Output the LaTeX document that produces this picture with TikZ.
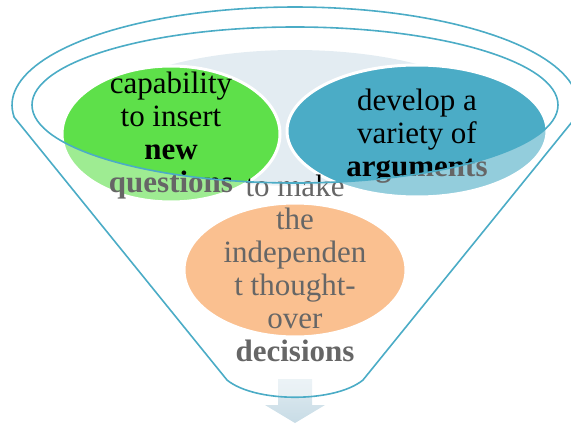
\documentclass[tikz,border=0pt]{standalone}
\usepackage{fontspec}
\setmainfont{Liberation Serif}
\definecolor{fgreen}{HTML}{5EE04A}
\definecolor{fblue}{HTML}{4BACC6}
\definecolor{forange}{HTML}{F79646}
\definecolor{flight}{HTML}{E3ECF2}
\definecolor{arrtop}{HTML}{E0EBF1}
\definecolor{arrbot}{HTML}{C8DCE6}
\begin{document}
\begin{tikzpicture}[x=1pt,y=-1pt,
  blob/.style={draw=white, line width=3pt},
  lbl/.style={align=center, font=\fontsize{31}{33}\selectfont, inner sep=0pt, text=black},
  rim/.style={draw=fblue, line width=1.6pt, fill=white, fill opacity=0.4, even odd rule}]
\clip (0,0) rectangle (571,428);
\fill[flight] (295,118) ellipse [x radius=200pt, y radius=68pt];
\path[blob, fill=fgreen] (171,134) ellipse [x radius=109pt, y radius=68pt];
\path[blob, fill=fblue] (417,131) ellipse [x radius=130pt, y radius=66pt];
\path[blob, fill=forange] (295,270) ellipse [x radius=111pt, y radius=67pt];
\node[lbl] (g) at (171,136) {capability\\to insert\\\textbf{new}\\\textbf{questions}};
\node[lbl] (b) at (417,136) {develop a\\variety of\\\textbf{arguments}};
\node[lbl] (o) at (295,268) {to make\\the\\independen\\t thought-\\over\\\textbf{decisions}};
\shade[top color=arrtop, bottom color=arrbot] (278,379) -- (312,379) -- (312,405) -- (325,405) -- (295,423) -- (265,405) -- (278,405) -- cycle;
\path[rim] (14,117) -- (227,380) .. controls (255,403) and (335,403) .. (363,380) -- (576,117)
  -- plot[domain=-7:187, samples=90] ({295+283*cos(\x)},{105-98*sin(\x)}) -- cycle
  (295,105) ellipse [x radius=263pt, y radius=78pt];
\end{tikzpicture}
\end{document}
